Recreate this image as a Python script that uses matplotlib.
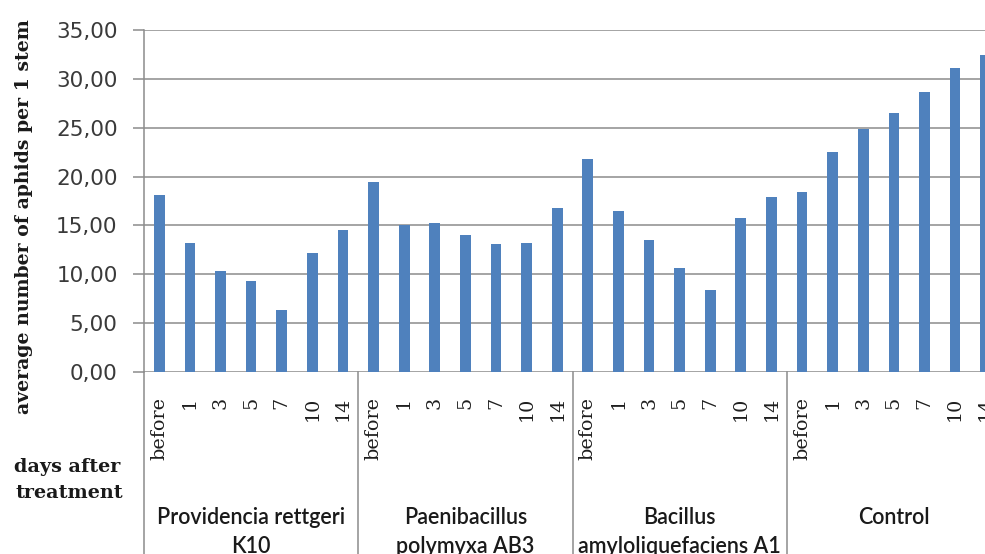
import matplotlib
matplotlib.use("Agg")
import matplotlib.pyplot as plt
from matplotlib.transforms import blended_transform_factory

# Mean aphid counts per stem, by treatment and day after treatment
days = ["before", "1", "3", "5", "7", "10", "14"]
groups = [
    ["Providencia rettgeri", "K10"],
    ["Paenibacillus", "polymyxa AB3"],
    ["Bacillus", "amyloliquefaciens A1"],
    ["Control"],
]
providencia = [18.1, 13.2, 10.3, 9.3, 6.3, 12.2, 14.5]
paenibacillus = [19.4, 15.0, 15.2, 14.0, 13.15, 13.25, 16.8]
bacillus = [21.8, 16.5, 13.5, 10.6, 8.4, 15.75, 17.9]
control = [18.4, 22.5, 24.9, 26.5, 28.7, 31.1, 32.4]
yticks = [0, 5, 10, 15, 20, 25, 30, 35]

series = [providencia, paenibacillus, bacillus, control]
values = [v for s in series for v in s]
n_days = len(days)
positions = list(range(len(values)))

W, H = 985, 554
fig = plt.figure(figsize=(W / 100, H / 100), dpi=100)
fig.patch.set_facecolor("white")

# axes run a little past the right edge of the canvas
ax = fig.add_axes([144 / W, 182 / H, (1001 - 144) / W, 342 / H])
ax.set_facecolor("white")

grid_c = "#8c8c8c"
bar_c = "#4f81bd"
serif = "DejaVu Serif"

ax.bar(positions, values, width=0.35, color=bar_c, zorder=3)
ax.set_xlim(-0.5, len(values) - 0.5)
ax.set_ylim(0, 35)

ax.set_yticks(yticks)
ax.set_yticklabels([f"{t:.2f}".replace(".", ",") for t in yticks],
                   fontsize=15.5, color="#3a3a3a", family="DejaVu Sans")
ax.tick_params(axis="y", length=8, width=1.1, color=grid_c, pad=11)
ax.set_xticks([])
ax.yaxis.grid(True, color=grid_c, linewidth=1.1, zorder=1)
ax.set_axisbelow(True)
for side in ["top", "right", "bottom"]:
    ax.spines[side].set_visible(False)
ax.spines["left"].set_color(grid_c)
ax.spines["left"].set_linewidth(1.1)

# x category axis drawn by hand: day labels, group separators, group names
tx = blended_transform_factory(ax.transData, fig.transFigure)
y_zero = 1 - 372 / H
for k in range(len(series) + 1):
    xs = k * n_days - 0.5
    ax.plot([xs, xs], [0, y_zero], transform=tx, color=grid_c,
            linewidth=1.1, clip_on=False, zorder=2)

for i, p in enumerate(positions):
    ax.text(p, 1 - 397 / H, days[i % n_days], transform=tx, rotation=90,
            ha="center", va="top", fontsize=13.8, family=serif, color="#1e1e1e")

for g, lines in enumerate(groups):
    xc = g * n_days + (n_days - 1) / 2
    for j, line in enumerate(lines):
        ax.text(xc, 1 - (524 + 29 * j) / H, line, transform=tx,
                ha="center", va="baseline", fontsize=15.5, family="Lato",
                fontweight=600, color="#1a1a1a", clip_on=False)

fig.text(24 / W, 1 - 217 / H, "average number of aphids per 1 stem",
         rotation=90, ha="center", va="center", fontsize=13.6,
         family=serif, fontweight="bold", color="#1a1a1a")
fig.text(14 / W, 1 - 472 / H, "days after", ha="left", va="baseline",
         fontsize=13.8, family=serif, fontweight="bold", color="#1a1a1a")
fig.text(15 / W, 1 - 498 / H, "treatment", ha="left", va="baseline",
         fontsize=13.8, family=serif, fontweight="bold", color="#1a1a1a")

fig.savefig("out.png", dpi=100, facecolor="white")
